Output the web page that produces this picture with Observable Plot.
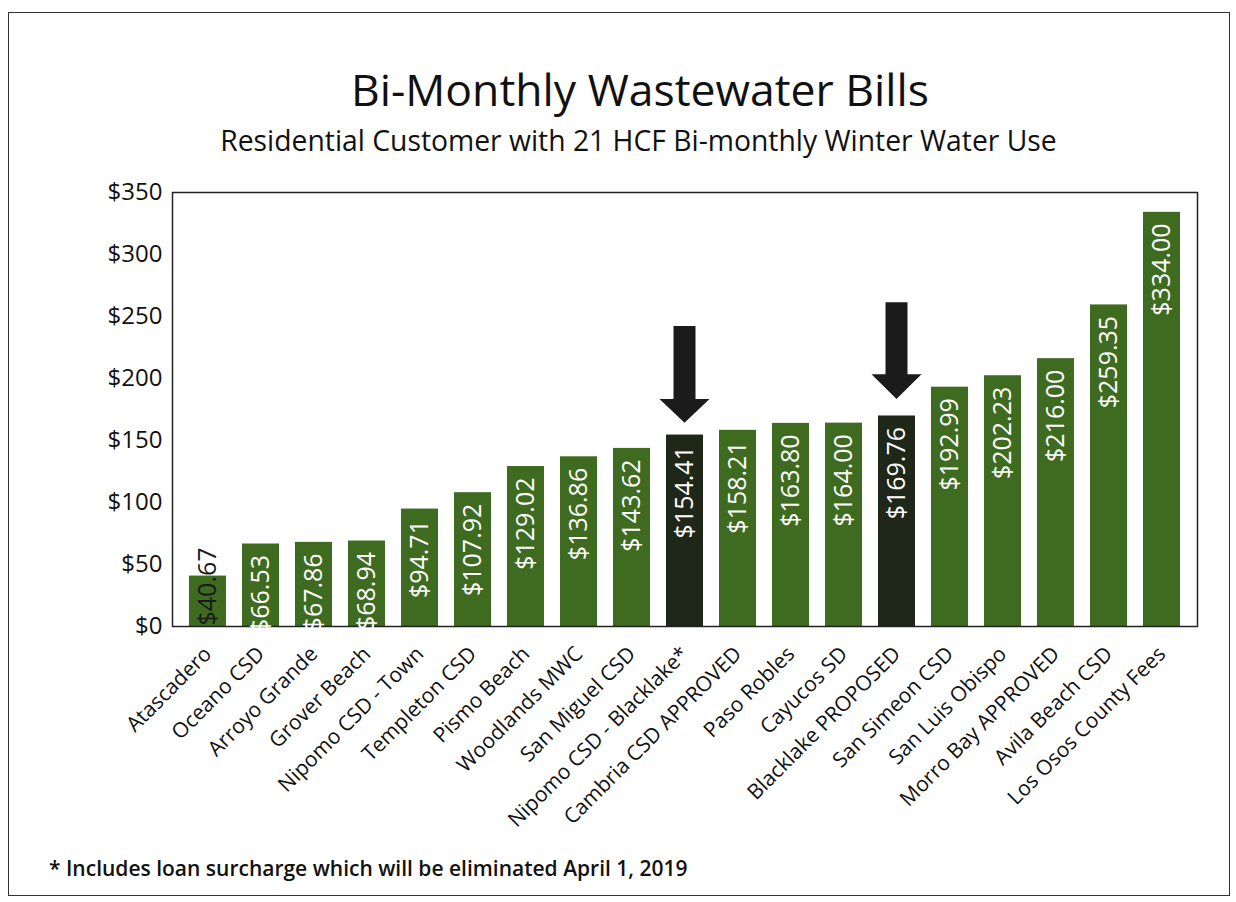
<!DOCTYPE html>
<html>
<head>
<meta charset="utf-8">
<script src="https://cdn.jsdelivr.net/npm/d3@7"></script>
<script src="https://cdn.jsdelivr.net/npm/@observablehq/plot@0.6"></script>
<style>
  body { margin: 0; background: #fff; font-family: "Open Sans", sans-serif; }
  #page { position: relative; width: 1236px; height: 902px; overflow: hidden; background: #fff; }
  #border { position: absolute; left: 8px; top: 12px; width: 1222px; height: 884px; border: 1.5px solid #333; box-sizing: border-box; }
  #title { position: absolute; top: 67px; left: 0; width: 1280px; text-align: center; font-size: 44.5px; color: #111; line-height: 1; }
  #subtitle { position: absolute; top: 126px; left: 0; width: 1277px; text-align: center; font-size: 28.3px; color: #111; line-height: 1; }
  #chart { position: absolute; left: 0; top: 152px; }
  #note { position: absolute; left: 49px; top: 858px; font-size: 21px; font-weight: 600; color: #111; line-height: 1; }
</style>
</head>
<body>
<div id="page">
  <div id="border"></div>
  <div id="title">Bi-Monthly Wastewater Bills</div>
  <div id="subtitle">Residential Customer with 21 HCF Bi-monthly Winter Water Use</div>
  <div id="chart"></div>
  <div id="note">* Includes loan surcharge which will be eliminated April 1, 2019</div>
</div>
<script>
const categories = ["Atascadero","Oceano CSD","Arroyo Grande","Grover Beach","Nipomo CSD - Town","Templeton CSD","Pismo Beach","Woodlands MWC","San Miguel CSD","Nipomo CSD - Blacklake*","Cambria CSD APPROVED","Paso Robles","Cayucos SD","Blacklake PROPOSED","San Simeon CSD","San Luis Obispo","Morro Bay APPROVED","Avila Beach CSD","Los Osos County Fees"];
const values = [40.67,66.53,67.86,68.94,94.71,107.92,129.02,136.86,143.62,154.41,158.21,163.80,164.00,169.76,192.99,202.23,216.00,259.35,334.00];
const highlighted = ["Nipomo CSD - Blacklake*","Blacklake PROPOSED"];
const yTicks = [0,50,100,150,200,250,300,350];

// arrows (in $ units): tip, head base, shaft top
const arrowTargets = ["Nipomo CSD - Blacklake*","Blacklake PROPOSED"];
const arrowTip = [164, 183];
const arrowHeadBase = [183, 203];
const arrowTop = [242, 261];

const data = categories.map((c, i) => ({name: c, value: values[i], hi: highlighted.includes(c)}));
const arrows = arrowTargets.map((c, i) => ({name: c, tip: arrowTip[i], base: arrowHeadBase[i], top: arrowTop[i]}));

const GREEN = "#3e6b1f";
const DARK = "#1f2719";
const fmt = v => "$" + v.toFixed(2);

const arrowMark = (index, scales) => {
  const {x, y} = scales;
  const bw = x.bandwidth ? x.bandwidth() : 0;
  const g = d3.create("svg:g");
  for (const a of arrows) {
    const cx = x(a.name) + bw / 2;
    const yt = y(a.top), yb = y(a.base), yp = y(a.tip);
    const sw = 11, hw = 25;
    g.append("path")
      .attr("d", `M${cx - sw},${yt}H${cx + sw}V${yb}H${cx + hw}L${cx},${yp}L${cx - hw},${yb}H${cx - sw}Z`)
      .attr("fill", "#1b1b1b");
  }
  return g.node();
};

const chart = Plot.plot({
  width: 1236,
  height: 700,
  marginLeft: 172,
  marginRight: 39,
  marginTop: 40,
  marginBottom: 226,
  style: {fontFamily: "'Open Sans', sans-serif", background: "transparent"},
  x: {domain: categories, paddingInner: 0.3, paddingOuter: 0.25, label: null},
  y: {domain: [0, 350], label: null},
  marks: [
    Plot.barY(data, {x: "name", y: "value", fill: d => d.hi ? DARK : GREEN}),
    Plot.frame({stroke: "#222", strokeWidth: 1.5}),
    Plot.axisY({ticks: yTicks, tickSize: 0, tickPadding: 10, tickFormat: d => "$" + d, fontSize: 24, fill: "#111", label: null}),
    Plot.axisX({tickRotate: -45, tickSize: 0, tickPadding: 24, fontSize: 21, fill: "#111", label: null}),
    Plot.text(data.filter(d => d.value >= 60), {x: "name", y: "value", text: d => fmt(d.value), rotate: -90, textAnchor: "end", dy: 11, fill: "#fff", fontSize: 25}),
    Plot.text(data.filter(d => d.value < 60), {x: "name", y: () => 0, text: d => fmt(d.value), rotate: -90, textAnchor: "start", dy: -1, fill: "#1a1a1a", fontSize: 25}),
    arrowMark
  ]
});
document.getElementById("chart").appendChild(chart);
</script>
</body>
</html>
